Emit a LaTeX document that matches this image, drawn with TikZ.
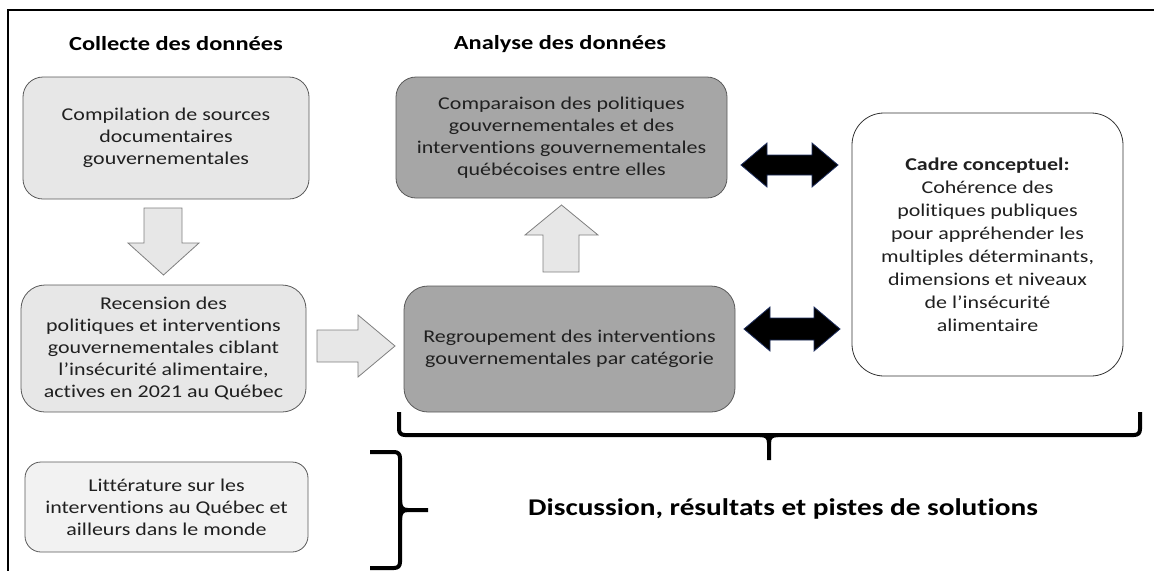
\documentclass[tikz,border=0pt]{standalone}
\usepackage{fontspec}
\setmainfont{Carlito}[FakeStretch=1.22, Ligatures={NoCommon}]
\definecolor{lightfill}{HTML}{E7E7E7}
\definecolor{litfill}{HTML}{F2F2F2}
\definecolor{darkfill}{HTML}{A6A6A6}
\definecolor{boxline}{HTML}{595959}
\definecolor{txt}{HTML}{202020}
\definecolor{arrline}{HTML}{7F7F7F}
\definecolor{navyline}{HTML}{1F2F5F}
\tikzset{
  box/.style={draw=boxline, line width=0.8pt, rounded corners=20pt, align=center, text=txt,
    font=\fontsize{18}{22}\selectfont, inner sep=0pt},
  lightbox/.style={box, fill=lightfill},
  litbox/.style={box, fill=litfill, rounded corners=16pt},
  darkbox/.style={box, fill=darkfill},
  cadrebox/.style={box, fill=white, draw=black!80, rounded corners=32pt, font=\fontsize{18}{23}\selectfont},
  hdr/.style={font=\bfseries\fontsize{20}{24}\selectfont, text=black},
  blockarrow/.style={draw=arrline, fill=lightfill, line width=0.8pt},
  dblarrow/.style={draw=navyline, fill=black, line width=0.8pt},
  brace/.style={draw=black, line width=4pt, line cap=butt, line join=round},
  frameline/.style={draw=black, line width=2pt}
}
\begin{document}
\begin{tikzpicture}[x=1pt,y=-1pt]
\useasboundingbox (0,0) rectangle (1154,571);
\draw[frameline] (1154,10) -- (8,10) -- (8,571);

\node[hdr] (h1) at (176,44) {Collecte des données};
\node[hdr] (h2) at (560,44) {Analyse des données};

\node[lightbox, minimum width=286pt, minimum height=122pt] (b1) at (166,138)
  {Compilation de sources\\documentaires\\gouvernementales};
\node[lightbox, rounded corners=24pt, minimum width=285pt, minimum height=127pt] (b2) at (163.5,348.5)
  {Recension des\\politiques et interventions\\gouvernementales ciblant\\l’insécurité alimentaire,\\actives en 2021 au Québec};
\node[litbox, minimum width=283pt, minimum height=90pt] (lit) at (166.5,507)
  {Littérature sur les\\interventions au Québec et\\ailleurs dans le monde};
\node[darkbox, minimum width=331pt, minimum height=121pt] (b4) at (561.5,137.5)
  {Comparaison des politiques\\gouvernementales et des\\interventions gouvernementales\\québécoises entre elles};
\node[darkbox, rounded corners=24pt, minimum width=331pt, minimum height=126pt] (b3) at (569.5,349)
  {Regroupement des interventions\\gouvernementales par catégorie};
\node[cadrebox, minimum width=271pt, minimum height=263pt] (cadre) at (987.5,244.5)
  {\textbf{Cadre conceptuel:}\\Cohérence des\\politiques publiques\\pour appréhender les\\multiples déterminants,\\dimensions et niveaux\\de l’insécurité\\alimentaire};

\node[font=\bfseries\fontsize{24}{28}\selectfont, text=black] (disc) at (783,509)
  {Discussion, résultats et pistes de solutions};

% block arrows
\path[blockarrow] (144,208) -- (182,208) -- (182,243) -- (199,243) -- (163.5,275) -- (128,243) -- (144,243) -- cycle;
\path[blockarrow] (317,330) -- (358,330) -- (358,315) -- (395,346) -- (358,377) -- (358,362) -- (317,362) -- cycle;
\path[blockarrow] (543,272) -- (543,235) -- (525,235) -- (561.5,205) -- (598,235) -- (579,235) -- (579,272) -- cycle;

% double arrows
\path[dblarrow] (741,165) -- (767,143) -- (767,155) -- (812,155) -- (812,143) -- (838,165)
  -- (812,187) -- (812,175) -- (767,175) -- (767,187) -- cycle;
\path[dblarrow] (744,329) -- (770,307) -- (770,318) -- (814,318) -- (814,307) -- (840,329)
  -- (814,351) -- (814,340) -- (770,340) -- (770,351) -- cycle;

% braces
\draw[brace] (399,412) -- (399,429) .. controls (399,433) and (401,435) .. (405,435)
  -- (1134,435) .. controls (1138,435) and (1140,433) .. (1140,429) -- (1140,412);
\draw[brace] (760,435) .. controls (766,435) and (769,437) .. (769,443) -- (769,460);
\draw[brace] (778,435) .. controls (772,435) and (769,437) .. (769,443);
\draw[brace] (370,452) -- (394,452) .. controls (398,452) and (400,454) .. (400,458)
  -- (400,562) .. controls (400,566) and (398,568) .. (394,568) -- (370,568);
\draw[brace] (400,500) .. controls (400,507) and (402,510) .. (408,510) -- (428,510);
\draw[brace] (400,520) .. controls (400,513) and (402,510) .. (408,510);
\end{tikzpicture}
\end{document}
